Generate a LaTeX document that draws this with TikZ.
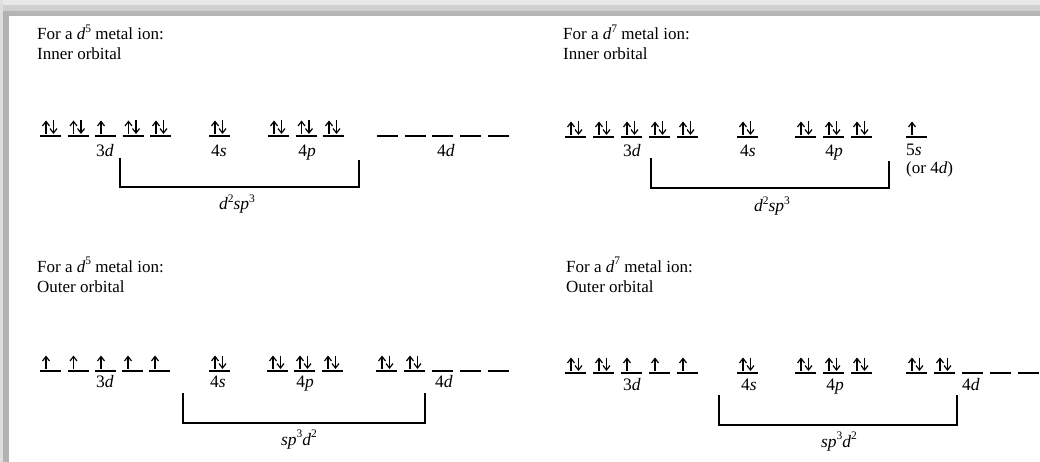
\documentclass[tikz,border=0pt]{standalone}
\usepackage{fontspec}
\setmainfont{Liberation Serif}
\usetikzlibrary{arrows.meta}
\newcommand\mysup[1]{\raisebox{0.42em}{\fontsize{11.5}{12}\selectfont #1}}
\begin{document}
\begin{tikzpicture}[x=1pt,y=-1pt,
  txt/.style={font=\fontsize{17}{20}\selectfont, inner sep=0pt, anchor=base west},
  lbl/.style={font=\fontsize{17.5}{20}\selectfont, inner sep=0pt, anchor=base},
  orbl/.style={line width=1.1pt},
  spin/.style={-{Straight Barb[length=4.5pt,width=7pt]}, line width=1.2pt},
  brk/.style={line width=1.1pt},
  orbempty/.pic={\draw[orbl] (0,0)--(21,0);},
  orbup/.pic={\draw[orbl] (0,0)--(21,0); \draw[spin] (6,-2)--(6,-15.5);},
  orbpair/.pic={\draw[orbl] (0,0)--(21,0); \draw[spin] (6,-2)--(6,-15.5); \draw[spin] (13.5,-15.5)--(13.5,-2);}
]
\useasboundingbox (0,0) rectangle (1040,462);
\fill[white] (0,0) rectangle (1040,462);
% frame
\fill[black!9] (0,0) rectangle (1040,5);
\fill[black!19] (0,5) rectangle (1040,11);
\fill[black!29] (0,11) rectangle (1040,16);
\fill[black!13] (0,0) rectangle (3,462);
\fill[black!30] (3,11) rectangle (8.5,462);

% ---------- top left ----------
\node[txt] (tl1) at (37,40) {For a \textit{d}\mysup{5} metal ion:};
\node[txt] (tl2) at (37,60) {Inner orbital};
\foreach \x in {40,67.5,122.5,150} \pic at (\x,136) {orbpair};
\pic at (95,136) {orbup};
\pic at (209,136) {orbpair};
\foreach \x in {268,295.5,323} \pic at (\x,136) {orbpair};
\foreach \x in {377,404.5,432,460,488} \pic at (\x,136) {orbempty};
\node[lbl] (tl3d) at (105,157) {3\textit{d}};
\node[lbl] (tl4s) at (219,157) {4\textit{s}};
\node[lbl] (tl4p) at (307,157) {4\textit{p}};
\node[lbl] (tl4d) at (446,157) {4\textit{d}};
\coordinate (tlA) at (120,158);
\coordinate (tlB) at (359,160);
\draw[brk] (tlA) -- (tlA |- 0,187) -- (tlB |- 0,187) -- (tlB);
\node[lbl] (tlh) at (237,210) {\textit{d}\mysup{2}\textit{sp}\mysup{3}};

% ---------- top right ----------
\node[txt] (tr1) at (563,40) {For a \textit{d}\mysup{7} metal ion:};
\node[txt] (tr2) at (563,60) {Inner orbital};
\foreach \x in {565,593,621,649,677} \pic at (\x,137) {orbpair};
\pic at (737,137) {orbpair};
\foreach \x in {795,823,851} \pic at (\x,137) {orbpair};
\pic at (906,137) {orbup};
\node[lbl] (tr3d) at (632,157) {3\textit{d}};
\node[lbl] (tr4s) at (748,157) {4\textit{s}};
\node[lbl] (tr4p) at (834,157) {4\textit{p}};
\node[txt,font=\fontsize{17.5}{20}\selectfont] (tr5s) at (906,156) {5\textit{s}};
\node[txt] (tror) at (906,174) {(or 4\textit{d})};
\coordinate (trA) at (651,158);
\coordinate (trB) at (889,161);
\draw[brk] (trA) -- (trA |- 0,188) -- (trB |- 0,188) -- (trB);
\node[lbl] (trh) at (772,212) {\textit{d}\mysup{2}\textit{sp}\mysup{3}};

% ---------- bottom left ----------
\node[txt] (bl1) at (37,272) {For a \textit{d}\mysup{5} metal ion:};
\node[txt] (bl2) at (37,292) {Outer orbital};
\foreach \x in {40,67.5,95,122,149} \pic at (\x,371) {orbup};
\pic at (209,371) {orbpair};
\foreach \x in {267,294,322} \pic at (\x,371) {orbpair};
\foreach \x in {376,404} \pic at (\x,371) {orbpair};
\foreach \x in {432,460,488} \pic at (\x,371) {orbempty};
\node[lbl] (bl3d) at (105,387) {3\textit{d}};
\node[lbl] (bl4s) at (218,387) {4\textit{s}};
\node[lbl] (bl4p) at (305,387) {4\textit{p}};
\node[lbl] (bl4d) at (444,387) {4\textit{d}};
\coordinate (blA) at (183,393);
\coordinate (blB) at (425,393);
\draw[brk] (blA) -- (blA |- 0,423) -- (blB |- 0,423) -- (blB);
\node[lbl] (blh) at (299,445) {\textit{sp}\mysup{3}\textit{d}\mysup{2}};

% ---------- bottom right ----------
\node[txt] (br1) at (566,272) {For a \textit{d}\mysup{7} metal ion:};
\node[txt] (br2) at (566,292) {Outer orbital};
\foreach \x in {565,593} \pic at (\x,373) {orbpair};
\foreach \x in {621,649,677} \pic at (\x,373) {orbup};
\pic at (737,373) {orbpair};
\foreach \x in {795,823,851} \pic at (\x,373) {orbpair};
\foreach \x in {906,934} \pic at (\x,373) {orbpair};
\foreach \x in {962,990,1018} \pic at (\x,373) {orbempty};
\node[lbl] (br3d) at (632,390) {3\textit{d}};
\node[lbl] (br4s) at (749,390) {4\textit{s}};
\node[lbl] (br4p) at (835,390) {4\textit{p}};
\node[lbl] (br4d) at (971,390) {4\textit{d}};
\coordinate (brA) at (719,395);
\coordinate (brB) at (957,395);
\draw[brk] (brA) -- (brA |- 0,425) -- (brB |- 0,425) -- (brB);
\node[lbl] (brh) at (839,447) {\textit{sp}\mysup{3}\textit{d}\mysup{2}};
\end{tikzpicture}
\end{document}
